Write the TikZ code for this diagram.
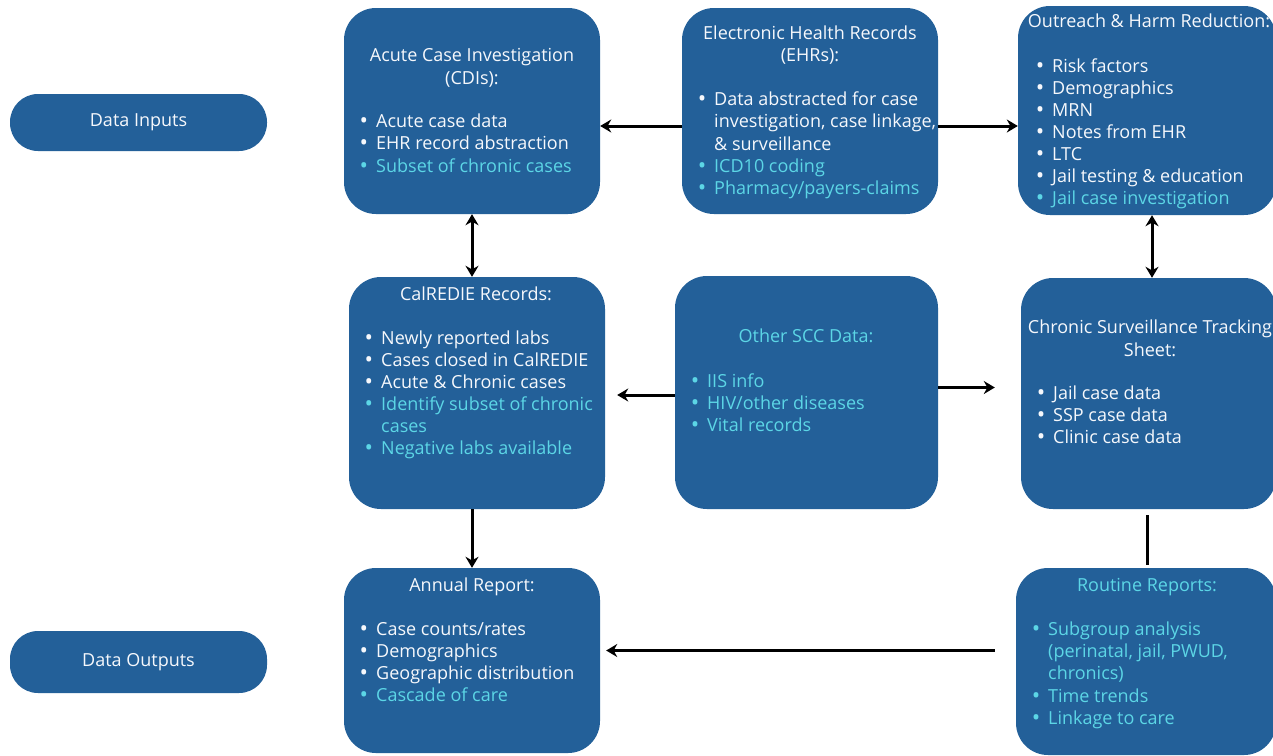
\documentclass[tikz,border=0pt]{standalone}
\usepackage{fontspec}
\setmainfont{Open Sans}
\usetikzlibrary{arrows.meta}
\definecolor{boxblue}{RGB}{35,96,153}
\definecolor{cyanT}{RGB}{92,214,230}
\definecolor{offwhite}{RGB}{246,248,252}
\tikzset{
 box/.style={fill=boxblue, draw=none, rounded corners=32pt, inner sep=0pt},
 pill/.style={fill=boxblue, draw=none, rounded corners=28pt, inner sep=0pt},
 txt/.style={inner sep=0pt, font=\fontsize{18}{22}\selectfont, text=offwhite},
 ar/.style={line width=3pt, -{Stealth[length=11pt,width=13pt]}},
 dar/.style={line width=3pt, {Stealth[length=11pt,width=13pt]}-{Stealth[length=11pt,width=13pt]}},
 ln/.style={line width=3pt},
}
\newcommand\bdot{\raisebox{-1.6pt}{\scalebox{1.25}{\textbullet}}}
\newcommand\itm[5]{\node[txt,anchor=base west,text=#4] (#1) at (#2,#3) {\makebox[0pt][r]{\bdot\hspace{8pt}}#5};}
\newcommand\cnt[5]{\node[txt,anchor=base west,text=#4] (#1) at (#2,#3) {#5};}
\newcommand\ttl[5]{\node[txt,anchor=base,text=#4] (#1) at (#2,#3) {#5};}
\begin{document}
\begin{tikzpicture}[x=1pt,y=-1pt]
\useasboundingbox (0,0) rectangle (1273,755);
\fill[white] (0,0) rectangle (1273,755);
\begin{scope}
\clip (0,0) rectangle (1273,755);
% pills
\node[pill, minimum width=257pt, minimum height=57pt] (inputs) at (138.5,122.5) {};
\node[pill, minimum width=257pt, minimum height=62pt] (outputs) at (138.5,662) {};
\node[txt] (inputsT) at (inputs.center) {Data Inputs};
\node[txt] (outputsT) at (outputs.center) {Data Outputs};
% boxes
\node[box, minimum width=256pt, minimum height=206pt] (acute) at (472,111) {};
\node[box, minimum width=256pt, minimum height=206pt] (ehr) at (810,111) {};
\node[box, minimum width=258pt, minimum height=209pt] (outreach) at (1147,110.5) {};
\node[box, minimum width=256pt, minimum height=232pt] (calredie) at (477,393) {};
\node[box, minimum width=263pt, minimum height=233pt] (other) at (806.5,392.5) {};
\node[box, minimum width=255pt, minimum height=231pt] (chronic) at (1148.5,393.5) {};
\node[box, minimum width=256pt, minimum height=185pt] (annual) at (472,660.5) {};
\node[box, minimum width=260pt, minimum height=187pt] (routine) at (1146,661.5) {};
% Acute
\ttl{a0}{472}{61}{offwhite}{Acute Case Investigation}
\ttl{a0b}{472}{84}{offwhite}{(CDIs):}
\itm{a1}{376}{127}{offwhite}{Acute case data}
\itm{a2}{376}{149}{offwhite}{EHR record abstraction}
\itm{a3}{376}{172}{cyanT}{Subset of chronic cases}
% EHR
\ttl{e0}{810}{39}{offwhite}{Electronic Health Records}
\ttl{e0b}{810}{61}{offwhite}{(EHRs):}
\itm{e1}{714}{105}{offwhite}{Data abstracted for case}
\cnt{e1b}{714}{127}{offwhite}{investigation, case linkage,}
\cnt{e1c}{714}{150}{offwhite}{\& surveillance}
\itm{e2}{714}{172}{cyanT}{ICD10 coding}
\itm{e3}{714}{194}{cyanT}{Pharmacy/payers-claims}
% Outreach
\ttl{o0}{1149}{27}{offwhite}{Outreach \& Harm Reduction:}
\itm{o1}{1052}{72}{offwhite}{Risk factors}
\itm{o2}{1052}{94}{offwhite}{Demographics}
\itm{o3}{1052}{116}{offwhite}{MRN}
\itm{o4}{1052}{138}{offwhite}{Notes from EHR}
\itm{o5}{1052}{160}{offwhite}{LTC}
\itm{o6}{1052}{182}{offwhite}{Jail testing \& education}
\itm{o7}{1052}{204}{cyanT}{Jail case investigation}
% CalREDIE
\ttl{c0}{476}{300}{offwhite}{CalREDIE Records:}
\itm{c1}{381}{344}{offwhite}{Newly reported labs}
\itm{c2}{381}{366}{offwhite}{Cases closed in CalREDIE}
\itm{c3}{381}{388}{offwhite}{Acute \& Chronic cases}
\itm{c4}{381}{410}{cyanT}{Identify subset of chronic}
\cnt{c4b}{381}{432}{cyanT}{cases}
\itm{c5}{381}{454}{cyanT}{Negative labs available}
% Other SCC
\ttl{s0}{806}{342}{cyanT}{Other SCC Data:}
\itm{s1}{707}{387}{cyanT}{IIS info}
\itm{s2}{707}{409}{cyanT}{HIV/other diseases}
\itm{s3}{707}{431}{cyanT}{Vital records}
% Chronic
\ttl{h0}{1150}{333}{offwhite}{Chronic Surveillance Tracking}
\ttl{h0b}{1150}{356}{offwhite}{Sheet:}
\itm{h1}{1053}{399}{offwhite}{Jail case data}
\itm{h2}{1053}{421}{offwhite}{SSP case data}
\itm{h3}{1053}{443}{offwhite}{Clinic case data}
% Annual
\ttl{n0}{472}{591}{offwhite}{Annual Report:}
\itm{n1}{376}{635}{offwhite}{Case counts/rates}
\itm{n2}{376}{657}{offwhite}{Demographics}
\itm{n3}{376}{679}{offwhite}{Geographic distribution}
\itm{n4}{376}{701}{cyanT}{Cascade of care}
% Routine
\ttl{r0}{1147}{591}{cyanT}{Routine Reports:}
\itm{r1}{1048}{635}{cyanT}{Subgroup analysis}
\cnt{r1b}{1048}{657}{cyanT}{(perinatal, jail, PWUD,}
\cnt{r1c}{1048}{679}{cyanT}{chronics)}
\itm{r2}{1048}{702}{cyanT}{Time trends}
\itm{r3}{1048}{724}{cyanT}{Linkage to care}
\end{scope}
% connectors
\draw[ar] ([yshift=-15pt]ehr.west) -- ([yshift=-15pt]ehr.west -| acute.east);
\draw[ar] ([yshift=-15pt]ehr.east) -- ([yshift=-15pt]ehr.east -| outreach.west);
\draw[dar] (acute.south) -- (acute.south |- calredie.north);
\draw[dar] ([xshift=5pt]outreach.south) -- ([xshift=5pt]outreach.south |- chronic.north);
\draw[ar, shorten >=12pt] ([yshift=-2.5pt]other.west) -- ([yshift=-2.5pt]other.west -| calredie.east);
\draw[ar, shorten >=26pt] ([yshift=5pt]other.east) -- ([yshift=5pt]other.east -| chronic.west);
\draw[ar] (acute.south |- calredie.south) -- (annual.north);
\draw[ln, shorten <=6pt, shorten >=3pt] ([xshift=-1.5pt]chronic.south) -- ([xshift=-1.5pt]chronic.south |- routine.north);
\draw[ar, shorten <=21pt, shorten >=6pt] ([yshift=11pt]routine.west) -- ([yshift=11pt]routine.west -| annual.east);
\end{tikzpicture}
\end{document}
